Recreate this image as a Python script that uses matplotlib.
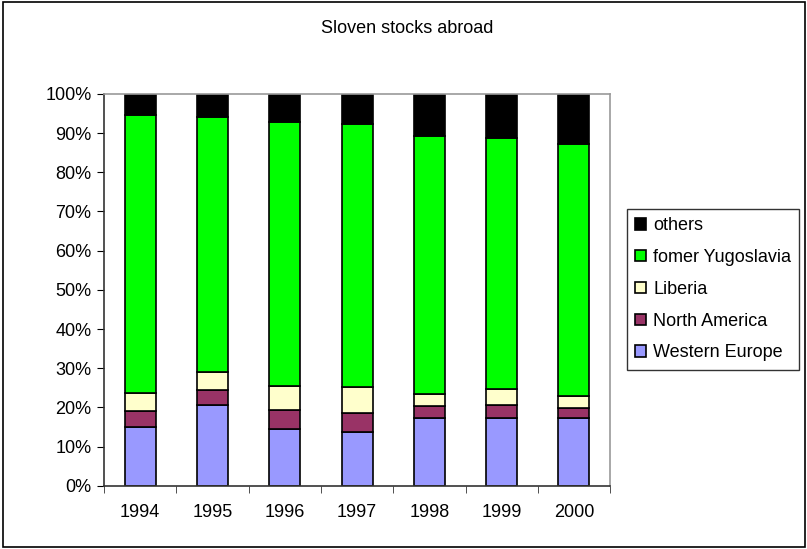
import numpy as np
import matplotlib.pyplot as plt
from matplotlib.patches import Rectangle
from matplotlib.ticker import PercentFormatter, FixedLocator

plt.rcParams['font.family'] = ['Liberation Sans', 'DejaVu Sans']

years = ['1994', '1995', '1996', '1997', '1998', '1999', '2000']
western_europe = [15.0, 20.7, 14.6, 13.8, 17.3, 17.3, 17.3]
north_america = [4.1, 3.8, 4.8, 4.8, 3.0, 3.4, 2.6]
liberia = [4.7, 4.5, 6.2, 6.5, 3.1, 3.9, 3.1]
yugoslavia = [70.7, 65.0, 67.1, 67.2, 65.8, 64.2, 64.2]
others = [5.5, 6.0, 7.3, 7.7, 10.8, 11.2, 12.8]

series = [
    ('Western Europe', western_europe, '#9999ff'),
    ('North America', north_america, '#993366'),
    ('Liberia', liberia, '#ffffcc'),
    ('fomer Yugoslavia', yugoslavia, '#00ff00'),
    ('others', others, '#000000'),
]

fig = plt.figure(figsize=(8.07, 5.49), dpi=100)
ax = fig.add_axes([0.129, 0.115, 0.627, 0.714])

x = np.arange(len(years))
bottom = np.zeros(len(years))
for name, vals, col in series:
    vals = np.array(vals)
    ax.bar(x, vals, 0.43, bottom=bottom, color=col, edgecolor='black',
           linewidth=1.2, label=name, zorder=2)
    bottom += vals

ax.set_xlim(-0.5, len(years) - 0.5)
ax.set_ylim(0, 100)
ax.set_yticks(np.arange(0, 101, 10))
ax.yaxis.set_major_formatter(PercentFormatter(decimals=0))
ax.set_xticks(x)
ax.set_xticklabels(years)
ax.xaxis.set_minor_locator(FixedLocator(np.arange(-0.5, len(years), 1)))
ax.tick_params(axis='x', which='major', length=0, pad=13, labelsize=13)
ax.tick_params(axis='x', which='minor', length=5, direction='out', color='#333333')
ax.tick_params(axis='y', length=5, direction='out', labelsize=13, pad=4)

ax.spines['left'].set_color('#333333')
ax.spines['bottom'].set_color('#333333')
ax.spines['top'].set_color('#999999')
ax.spines['right'].set_color('#999999')
for s in ax.spines.values():
    s.set_linewidth(1.2)

fig.text(0.505, 0.948, 'Sloven stocks abroad', ha='center', va='center', fontsize=13)

handles, labels = ax.get_legend_handles_labels()
leg = fig.legend(handles[::-1], labels[::-1], loc='center left',
                 bbox_to_anchor=(0.777, 0.473), fontsize=13, frameon=True,
                 fancybox=False, edgecolor='black', handlelength=0.6,
                 handleheight=0.6, handletextpad=0.4, labelspacing=0.82,
                 borderpad=0.45, borderaxespad=0)
leg.get_frame().set_linewidth(1.0)

fig.patches.append(Rectangle((0.004, 0.003), 0.994, 0.994, transform=fig.transFigure,
                             fill=False, edgecolor='black', linewidth=1.2))

fig.savefig('out.png', dpi=100)
